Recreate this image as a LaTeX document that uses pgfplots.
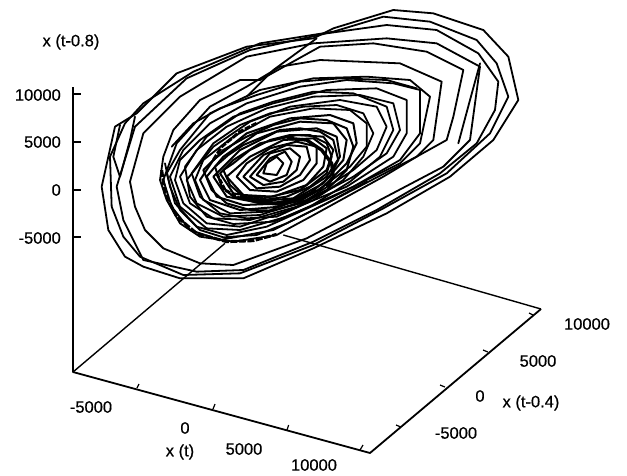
\documentclass[border=0pt]{standalone}
\usepackage{pgfplots}
\pgfplotsset{compat=1.18}
\usepackage{fontspec}
\setmainfont[FakeBold=0.5]{Liberation Sans}
\pgfplotsset{ring/.style={black,line width=1.8pt,line join=round,line cap=round},
 inner/.style={black,line width=2pt,line join=round,line cap=round}}
\tikzset{lab/.style={font=\fontsize{16.5}{17}\selectfont,inner sep=0pt}}
\begin{document}
\begin{tikzpicture}
\useasboundingbox (0,0) rectangle (627pt,475pt);
\begin{axis}[at={(0,0)},anchor=south west,width=627pt,height=475pt,scale only axis,
  hide axis,clip=false,xmin=-300,xmax=1581,ymin=0,ymax=1425,y dir=reverse]
% frame
\addplot[black,line width=1.8pt,line join=round] coordinates {(-81,261)(-81,1116)(810,1359)(1323,927)};
\addplot[black,line width=1.4pt] coordinates {(-81,1116)(375,730)};
\addplot[black,line width=1.4pt] coordinates {(1323,927)(550,705)};
% ticks
\addplot[black,line width=1.5pt] coordinates {(-81,282)(-57,282)};
\addplot[black,line width=1.5pt] coordinates {(-81,426)(-57,426)};
\addplot[black,line width=1.5pt] coordinates {(-81,570)(-57,570)};
\addplot[black,line width=1.5pt] coordinates {(-81,711)(-57,711)};
\addplot[black,line width=1.2pt] coordinates {(111,1164)(117,1152)};
\addplot[black,line width=1.2pt] coordinates {(339,1227)(345,1212)};
\addplot[black,line width=1.2pt] coordinates {(561,1290)(566,1275)};
\addplot[black,line width=1.2pt] coordinates {(780,1350)(789,1335)};
\addplot[black,line width=1.2pt] coordinates {(903,1281)(888,1275)};
\addplot[black,line width=1.2pt] coordinates {(1035,1161)(1020,1155)};
\addplot[black,line width=1.2pt] coordinates {(1164,1056)(1149,1050)};
\addplot[black,line width=1.2pt] coordinates {(1299,945)(1287,939)};
% trajectory
\addplot[ring] coordinates {(5,560)(25,690)(75,770)(130,800)(240,835)(430,835)(640,745)(860,640)(1050,530)(1180,420)(1255,300)(1225,170)(1150,90)(1000,40)(880,30)(700,85)(640,115)(440,140)(230,220)(110,340)(45,380)(5,560)};
\addplot[ring] coordinates {(30,470)(35,620)(70,710)(120,770)(250,825)(420,820)(640,735)(850,625)(1040,520)(1170,400)(1225,290)(1190,190)(1130,120)(990,65)(850,50)(700,95)(480,130)(280,215)(130,310)(75,370)(30,470)};
\addplot[ring] coordinates {(50,560)(70,660)(130,780)(290,815)(430,810)(640,725)(830,630)(1020,520)(1130,430)(1185,330)(1195,245)(1135,160)(1010,90)(860,75)(680,100)(450,150)(260,235)(105,380)(50,560)};
\addplot[ring] coordinates {(90,545)(105,620)(135,690)(190,745)(300,790)(400,795)(620,715)(840,600)(1030,500)(1110,420)(1140,200)(1010,130)(860,115)(640,130)(440,170)(240,290)(130,400)(90,545)};
\addplot[ring] coordinates {(180,540)(200,600)(240,670)(300,710)(400,725)(530,705)(650,640)(850,530)(950,470)(1040,420)(1060,350)(1090,210)(980,155)(820,130)(660,140)(480,240)(420,240)(300,300)(220,390)(190,470)(180,540)};
\addplot[ring] coordinates {(190,540)(215,620)(270,690)(360,720)(520,690)(700,600)(950,470)(1000,420)(1025,245)(900,190)(660,180)(540,200)(440,260)(330,320)(230,430)(190,540)};
\addplot[ring] coordinates {(200,520)(225,610)(290,680)(380,705)(500,680)(700,590)(900,490)(960,430)(990,290)(930,240)(800,230)(640,235)(480,270)(330,340)(240,450)(200,520)};
\addplot[ring] coordinates {(210,530)(240,620)(320,685)(420,690)(560,650)(760,560)(900,480)(960,400)(960,270)(880,250)(740,240)(600,260)(440,310)(330,370)(250,450)(210,530)};
\addplot[ring] coordinates {(225,540)(250,610)(320,670)(420,680)(570,630)(740,560)(880,470)(920,400)(920,300)(830,265)(680,270)(520,310)(400,350)(300,420)(240,480)(225,540)};
\addplot[ring] coordinates {(240,530)(270,610)(340,655)(450,660)(590,620)(760,530)(860,460)(900,390)(880,310)(780,285)(640,290)(500,325)(380,380)(290,450)(240,530)};
\addplot[ring] coordinates {(260,540)(290,610)(370,650)(480,645)(620,600)(760,510)(830,450)(860,380)(830,320)(720,300)(570,320)(450,365)(340,440)(260,540)};
\addplot[ring] coordinates {(285,540)(310,600)(390,640)(500,635)(640,580)(750,500)(800,440)(800,370)(750,330)(640,325)(510,350)(400,410)(310,480)(285,540)};
\addplot[inner] coordinates {(300,540)(330,600)(420,630)(540,620)(660,570)(740,490)(770,430)(760,370)(690,345)(570,355)(440,400)(340,480)(300,540)};
\addplot[inner] coordinates {(320,530)(350,590)(430,615)(560,610)(670,550)(730,480)(740,420)(700,370)(600,365)(470,400)(370,470)(320,530)};
\addplot[inner] coordinates {(340,530)(380,590)(460,605)(580,595)(680,530)(720,470)(710,410)(650,385)(530,395)(420,450)(340,530)};
\addplot[inner] coordinates {(360,520)(400,580)(490,595)(600,570)(680,510)(700,450)(670,410)(590,405)(480,430)(400,480)(360,520)};
\addplot[inner] coordinates {(380,530)(430,585)(520,590)(620,555)(670,500)(680,445)(640,415)(550,420)(450,470)(380,530)};
\addplot[inner] coordinates {(410,530)(450,570)(530,575)(610,540)(650,490)(650,440)(590,425)(510,445)(440,490)(410,530)};
\addplot[inner] coordinates {(430,530)(470,565)(540,560)(600,525)(630,480)(620,440)(560,435)(490,465)(430,530)};
\addplot[inner] coordinates {(450,530)(490,555)(550,545)(590,510)(600,470)(570,445)(510,460)(450,530)};
\addplot[inner] coordinates {(470,525)(510,545)(560,525)(575,485)(555,455)(510,475)(470,525)};
\addplot[inner] coordinates {(490,520)(530,525)(550,490)(530,470)(500,490)(490,520)};
% further passes
\addplot[inner] coordinates {(345,500)(365,560)(400,590)(450,600)(500,612)(570,600)(630,580)(690,530)(715,480)(700,420)(660,395)(600,385)(540,390)(490,410)(430,435)(385,465)(345,500)};
\addplot[inner] coordinates {(370,510)(390,555)(430,590)(490,600)(560,590)(630,560)(680,520)(695,470)(680,430)(630,405)(570,405)(510,420)(450,450)(400,490)(370,510)};
\addplot[inner] coordinates {(310,510)(335,570)(380,610)(450,630)(520,632)(600,610)(680,570)(740,510)(760,440)(740,385)(680,360)(600,355)(520,375)(440,410)(370,450)(310,510)};
\addplot[ring] coordinates {(275,520)(300,590)(360,640)(440,655)(530,650)(640,600)(730,540)(790,470)(820,400)(790,340)(710,315)(610,320)(510,340)(420,375)(340,430)(275,520)};
\addplot[ring] coordinates {(255,500)(270,590)(320,650)(400,672)(520,665)(630,620)(750,545)(840,470)(880,390)(860,320)(760,280)(640,275)(520,305)(420,340)(320,410)(255,500)};
\addplot[ring] coordinates {(195,490)(210,560)(240,630)(300,690)(370,712)(470,705)(560,670)(680,610)(800,545)};
\addplot[ring] coordinates {(215,440)(280,370)(360,325)(470,285)(600,245)(720,235)(860,240)(950,265)};
\addplot[ring] coordinates {(440,290)(520,210)(650,115)};
\addplot[ring] coordinates {(1140,190)(1110,300)(1075,430)};
\addplot[ring] coordinates {(60,375)(40,470)(60,530)(90,420)(105,350)};
% heavier passes of the trajectory in the dense band
\addplot[black,line width=3.4pt,line join=round] coordinates {(560,415)(620,420)(665,450)(695,490)(700,530)(680,560)};
\addplot[black,line width=4pt,line join=round] coordinates {(420,590)(470,605)(540,612)(600,600)(650,570)};
\addplot[black,line width=3pt,dash pattern=on 7pt off 1.5pt,line join=round] coordinates {(185,510)(195,580)(230,650)(290,700)(380,725)(460,722)(530,703)};
\addplot[black,line width=3pt,dash pattern=on 6pt off 1.5pt,line join=round] coordinates {(340,480)(365,440)(420,395)(470,370)};
\addplot[black,line width=3pt,dash pattern=on 5pt off 1.5pt,line join=round] coordinates {(350,520)(375,570)(420,595)};
% labels
\node[lab,anchor=east] at (axis cs:-117,285) {10000};
\node[lab,anchor=east] at (axis cs:-117,426) {5000};
\node[lab,anchor=east] at (axis cs:-117,570) {0};
\node[lab,anchor=east] at (axis cs:-117,714) {-5000};
\node[lab] at (axis cs:-87,126) {x (t-0.8)};
\node[lab] at (axis cs:-27,1221) {-5000};
\node[lab] at (axis cs:255,1284) {0};
\node[lab] at (axis cs:240,1356) {x (t)};
\node[lab] at (axis cs:432,1347) {5000};
\node[lab] at (axis cs:642,1395) {10000};
\node[lab] at (axis cs:1461,972) {10000};
\node[lab] at (axis cs:1314,1083) {5000};
\node[lab] at (axis cs:1140,1188) {0};
\node[lab] at (axis cs:1293,1209) {x (t-0.4)};
\node[lab] at (axis cs:1068,1299) {-5000};
\end{axis}
\end{tikzpicture}
\end{document}
